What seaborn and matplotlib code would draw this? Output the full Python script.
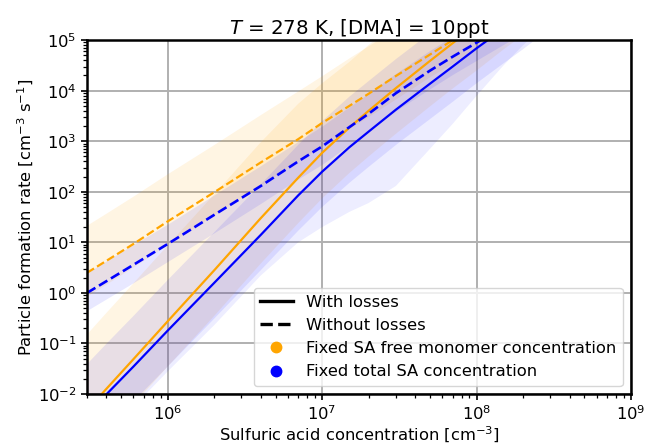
import numpy as np
import pandas as pd
import matplotlib
matplotlib.use("Agg")
import matplotlib.pyplot as plt
from matplotlib.lines import Line2D
from matplotlib.ticker import NullFormatter
import seaborn as sns

# Sulfuric acid concentration [cm^-3]
sa_conc = [3e5, 4e5, 6e5, 1e6, 2e6, 4e6, 7e6, 1e7, 1.5e7, 2e7, 3e7, 5e7, 7e7,
           1e8, 1.5e8, 2e8, 3e8]

# Fixed SA free monomer concentration (orange), J [cm^-3 s^-1]
free_with_losses = [0.0047, 0.0126, 0.049, 0.275, 2.8, 30, 190, 590, 1860, 4000,
                    11200, 39000, 87000, 2.0e5, 5.2e5, 1.0e6, 2.5e6]
free_with_losses_lo = [5.9e-4, 1.6e-3, 6.2e-3, 0.035, 0.35, 3.8, 24, 74, 235, 500,
                       1400, 4900, 11000, 25000, 66000, 1.26e5, 3.2e5]
free_with_losses_hi = [0.15, 0.40, 1.55, 8.7, 89, 950, 5500, 14000, 37000, 80000,
                       2.24e5, 7.8e5, 1.7e6, 4.0e6, 1.0e7, 2.0e7, 5.0e7]
free_no_losses = [2.5, 4.3, 9.3, 26, 98, 380, 1100, 2300, 5000, 8700,
                  19500, 52000, 1.0e5, 2.0e5, 4.5e5, 7.8e5, 1.7e6]
free_no_losses_lo = [0.87, 1.5, 3.3, 9.1, 35, 135, 400, 810, 1800, 3100,
                     6900, 19000, 35000, 72000, 1.6e5, 2.8e5, 6.2e5]
free_no_losses_hi = [22, 38, 83, 230, 870, 3400, 10000, 20000, 45000, 78000,
                     1.7e5, 4.7e5, 8.9e5, 1.8e6, 4.0e6, 6.9e6, 1.5e7]

# Fixed total SA concentration (blue), J [cm^-3 s^-1]
total_with_losses = [0.0039, 0.0098, 0.035, 0.18, 1.58, 14, 85, 250, 760, 1550,
                     4200, 13800, 30000, 69000, 1.7e5, 3.3e5, 8.3e5]
total_with_losses_lo = [7.8e-4, 1.9e-3, 7.1e-3, 0.035, 0.31, 2.8, 17, 50, 150, 310,
                        840, 2750, 6000, 14000, 35000, 66000, 1.7e5]
total_with_losses_hi = [0.039, 0.098, 0.35, 1.8, 15.8, 140, 850, 2500, 7600, 15500,
                        42000, 1.38e5, 3.0e5, 6.9e5, 1.7e6, 3.3e6, 8.3e6]
total_with_losses_lo_wide = [6.3e-4, 1.55e-3, 5.6e-3, 0.028, 0.23, 2.2, 10, 20, 40, 60,
                             130, 710, 2200, 7900, 32000, 79000, 2.5e5]
total_no_losses = [1.0, 1.7, 3.6, 9.3, 35, 130, 400, 790, 1900, 3500,
                   8900, 25000, 47000, 89000, 1.9e5, 3.2e5, 6.6e5]
total_no_losses_lo = [0.45, 0.76, 1.6, 4.2, 15.5, 59, 180, 350, 850, 1600,
                      4000, 11000, 21000, 40000, 83000, 1.4e5, 3.0e5]
total_no_losses_hi = [2.5, 4.3, 9.1, 23, 87, 330, 1000, 2000, 4800, 8900,
                      22000, 63000, 1.2e5, 2.2e5, 4.7e5, 7.9e5, 1.7e6]

# major tick positions
x_ticks = [1e6, 1e7, 1e8, 1e9]
y_ticks = [1e-2, 1e-1, 1e0, 1e1, 1e2, 1e3, 1e4, 1e5]

ORANGE = "orange"
BLUE = "blue"
FS = 11.8

fig = plt.figure(figsize=(6.46, 4.46), dpi=100)
ax = fig.add_axes([0.1347, 0.1166, 0.842, 0.7934])

# uncertainty bands
bands = [
    (free_with_losses_lo, free_with_losses_hi, ORANGE, 0.11),
    (free_no_losses_lo, free_no_losses_hi, ORANGE, 0.11),
    (total_with_losses_lo_wide, total_with_losses, BLUE, 0.07),
    (total_with_losses_lo, total_with_losses_hi, BLUE, 0.09),
    (total_no_losses_lo, total_no_losses_hi, BLUE, 0.09),
]
for lo, hi, col, a in bands:
    ax.fill_between(sa_conc, lo, hi, color=col, alpha=a, linewidth=0)

# central curves
curves = [
    (free_with_losses, ORANGE, "-", 1.6),
    (free_no_losses, ORANGE, "--", 1.6),
    (total_with_losses, BLUE, "-", 1.6),
    (total_no_losses, BLUE, "--", 1.9),
]
for vals, col, ls, lw in curves:
    df = pd.DataFrame({"sa": sa_conc, "j": vals})
    sns.lineplot(data=df, x="sa", y="j", ax=ax, color=col, linestyle=ls,
                 linewidth=lw, sort=False, estimator=None)

ax.set_xscale("log")
ax.set_yscale("log")
ax.set_xticks(x_ticks)
ax.set_yticks(y_ticks)
ax.set_xlim(3e5, 1e9)
ax.set_ylim(1e-2, 1e5)
ax.xaxis.set_minor_formatter(NullFormatter())
ax.yaxis.set_minor_formatter(NullFormatter())

ax.grid(True, which="major", color="#b0b0b0", linewidth=1.4)
ax.set_axisbelow(True)
for sp in ax.spines.values():
    sp.set_linewidth(1.8)
    sp.set_color("black")
ax.tick_params(axis="both", which="major", labelsize=FS, length=4.5, width=1.2, pad=3)
ax.tick_params(axis="both", which="minor", length=2.8, width=0.9)

ax.set_xlabel("Sulfuric acid concentration [cm$^{-3}$]", fontsize=FS, labelpad=1)
ax.set_ylabel("Particle formation rate [cm$^{-3}$ s$^{-1}$]", fontsize=FS, labelpad=1)
ax.set_title("$T$ = 278 K, [DMA] = 10ppt", fontsize=14.2, pad=3)

handles = [
    Line2D([0], [0], color="black", linestyle="-", linewidth=2.4),
    Line2D([0], [0], color="black", linestyle="--", linewidth=2.4),
    Line2D([0], [0], color=ORANGE, marker="o", linestyle="", markersize=7.5),
    Line2D([0], [0], color=BLUE, marker="o", linestyle="", markersize=7.5),
]
labels = ["With losses", "Without losses",
          "Fixed SA free monomer concentration", "Fixed total SA concentration"]
ax.legend(handles, labels, loc="lower right", fontsize=FS)

fig.savefig("out.png", dpi=100)
